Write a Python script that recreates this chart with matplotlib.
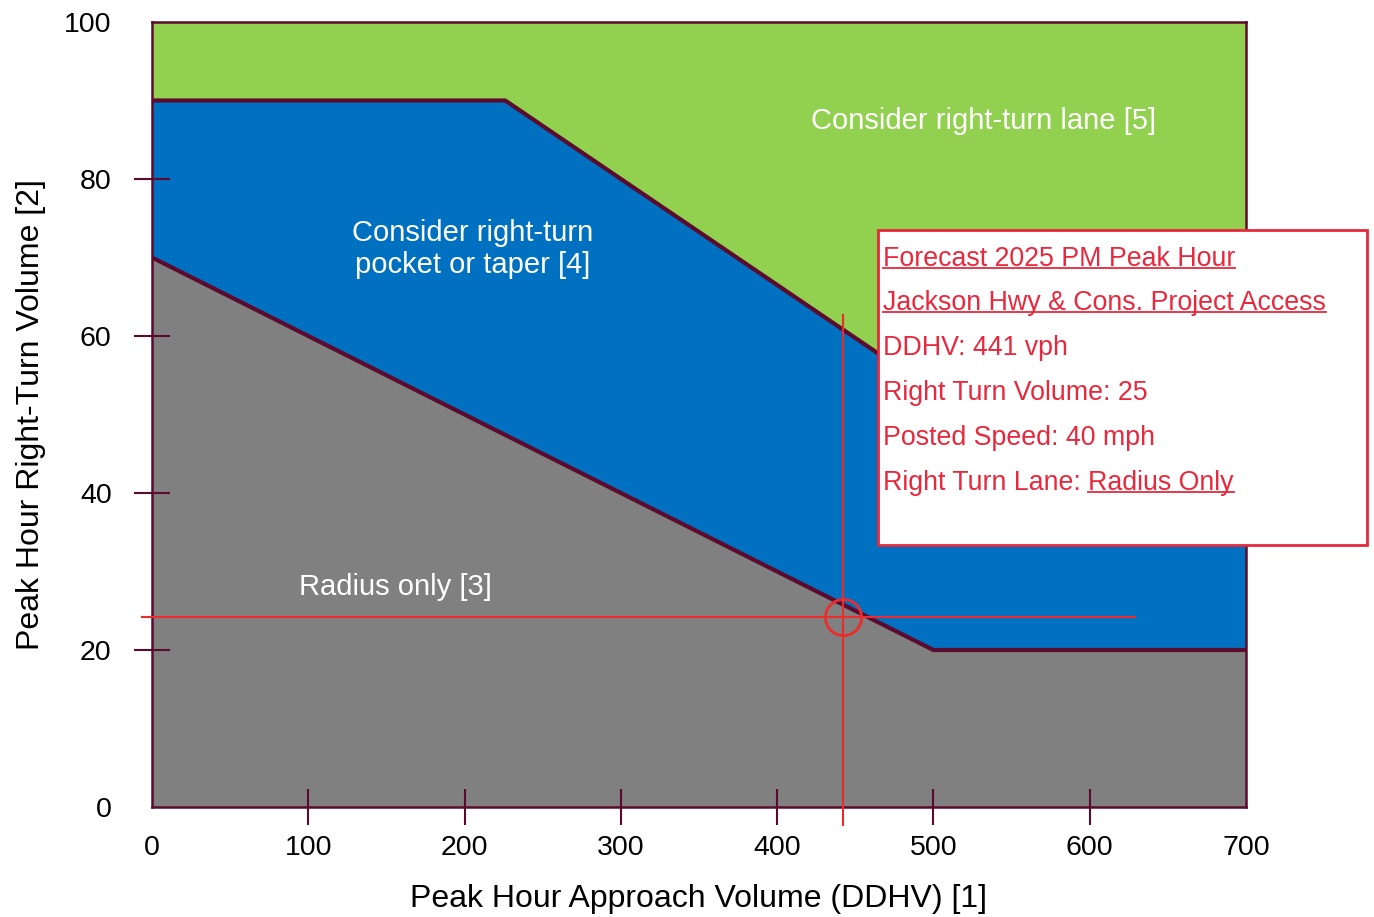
import matplotlib
matplotlib.use("Agg")
import matplotlib.pyplot as plt
from matplotlib.patches import Rectangle
from matplotlib.lines import Line2D

plt.rcParams['font.family'] = ['Liberation Sans', 'DejaVu Sans']

# ---- data ----
gray_x = [0, 0, 500, 700, 700]
gray_y = [0, 70, 20, 20, 0]
blue_top_x = [0, 226, 500, 700]
blue_top_y = [90, 90, 53, 53]
low_line_x = [0, 500, 700]
low_line_y = [70, 20, 20]
x_ticks = [0, 100, 200, 300, 400, 500, 600, 700]
y_ticks = [0, 20, 40, 60, 80, 100]
proj_x = 442
proj_y = 24.2
hline_x = [-6.5, 629]
vline_y = [-2.3, 62.7]

region_labels = ["Consider right-turn lane [5]", "Consider right-turn\npocket or taper [4]", "Radius only [3]"]
info_lines = ["Forecast 2025 PM Peak Hour", "Jackson Hwy & Cons. Project Access",
              "DDHV: 441 vph", "Right Turn Volume: 25", "Posted Speed: 40 mph"]
lane_prefix = "Right Turn Lane: "
lane_result = "Radius Only"

GREEN = '#92D050'
BLUE = '#0070C0'
GRAY = '#808080'
MAROON = '#5C0A2E'
RED = '#E8283C'
XRED = '#EE2B2B'

fig = plt.figure(figsize=(13.74, 9.17), dpi=100)
ax = fig.add_axes([152/1374, 1-807/917, 1094/1374, 785/917])
ax.set_xlim(0, 700)
ax.set_ylim(0, 100)
ax.set_facecolor(GREEN)

bx = blue_top_x + low_line_x[::-1]
by = blue_top_y + low_line_y[::-1]
ax.fill(bx, by, color=BLUE, zorder=1, lw=0)
ax.fill(gray_x, gray_y, color=GRAY, zorder=2, lw=0)
ax.plot(blue_top_x, blue_top_y, color=MAROON, lw=3, zorder=3, solid_capstyle='butt')
ax.plot(low_line_x, low_line_y, color=MAROON, lw=3, zorder=3, solid_capstyle='butt')

for s in ax.spines.values():
    s.set_color(MAROON)
    s.set_linewidth(1.8)
    s.set_zorder(4)

ax.set_xticks(x_ticks)
ax.set_yticks(y_ticks)
ax.tick_params(axis='both', direction='inout', length=26, width=1.5, color=MAROON,
               labelsize=20.5, labelcolor='black')
ax.tick_params(axis='x', pad=7)
ax.tick_params(axis='y', pad=16)
ax.xaxis.set_zorder(5)
ax.yaxis.set_zorder(5)
for tk in (ax.xaxis.get_major_ticks()[0], ax.xaxis.get_major_ticks()[-1],
           ax.yaxis.get_major_ticks()[0], ax.yaxis.get_major_ticks()[-1]):
    tk.tick1line.set_visible(False)

ax.set_xlabel("Peak Hour Approach Volume (DDHV) [1]", fontsize=23, labelpad=17)
ax.set_ylabel("Peak Hour Right-Turn Volume [2]", fontsize=23, labelpad=13)

ax.text(532, 87.4, region_labels[0], color='white', fontsize=21, ha='center', va='center', zorder=5)
ax.text(205, 71.1, region_labels[1], color='white', fontsize=21, ha='center', va='center',
        zorder=5, linespacing=1.15)
ax.text(156, 28, region_labels[2], color='white', fontsize=21, ha='center', va='center', zorder=5)

# crosshair
ax.plot(hline_x, [proj_y, proj_y], color=XRED, lw=1.5, zorder=6, clip_on=False)
ax.plot([proj_x, proj_x], vline_y, color=XRED, lw=1.5, zorder=6, clip_on=False)
ax.plot([proj_x], [proj_y], marker='o', ms=26, mfc='none', mec=XRED, mew=2, zorder=6)

# info box
box = Rectangle((878/1374, 1-545/917), 489/1374, 315/917, transform=fig.transFigure,
                facecolor='white', edgecolor=RED, lw=2, zorder=10)
fig.patches.append(box)

FS = 19.3
xt = 883/1374
ys = [259, 303, 348, 393, 438, 483]
texts = []
for i, line in enumerate(info_lines):
    t = fig.text(xt, 1-ys[i]/917, line, color=RED, fontsize=FS, ha='left', va='center', zorder=11)
    texts.append((t, i < 2))
t1 = fig.text(xt, 1-ys[5]/917, lane_prefix, color=RED, fontsize=FS, ha='left', va='center', zorder=11)
fig.canvas.draw()
r = fig.canvas.get_renderer()
bb = t1.get_window_extent(r)
t2 = fig.text(bb.x1/1374, 1-ys[5]/917, lane_result, color=RED, fontsize=FS, ha='left', va='center', zorder=11)
texts.append((t2, True))
fig.canvas.draw()
for t, ul in texts:
    if not ul:
        continue
    b = t.get_window_extent(r)
    yline = (b.y0 + 4) / 917
    fig.lines.append(Line2D([b.x0/1374, b.x1/1374], [yline, yline], transform=fig.transFigure,
                            color=RED, lw=1.3, zorder=12))

fig.savefig('out.png', dpi=100)
